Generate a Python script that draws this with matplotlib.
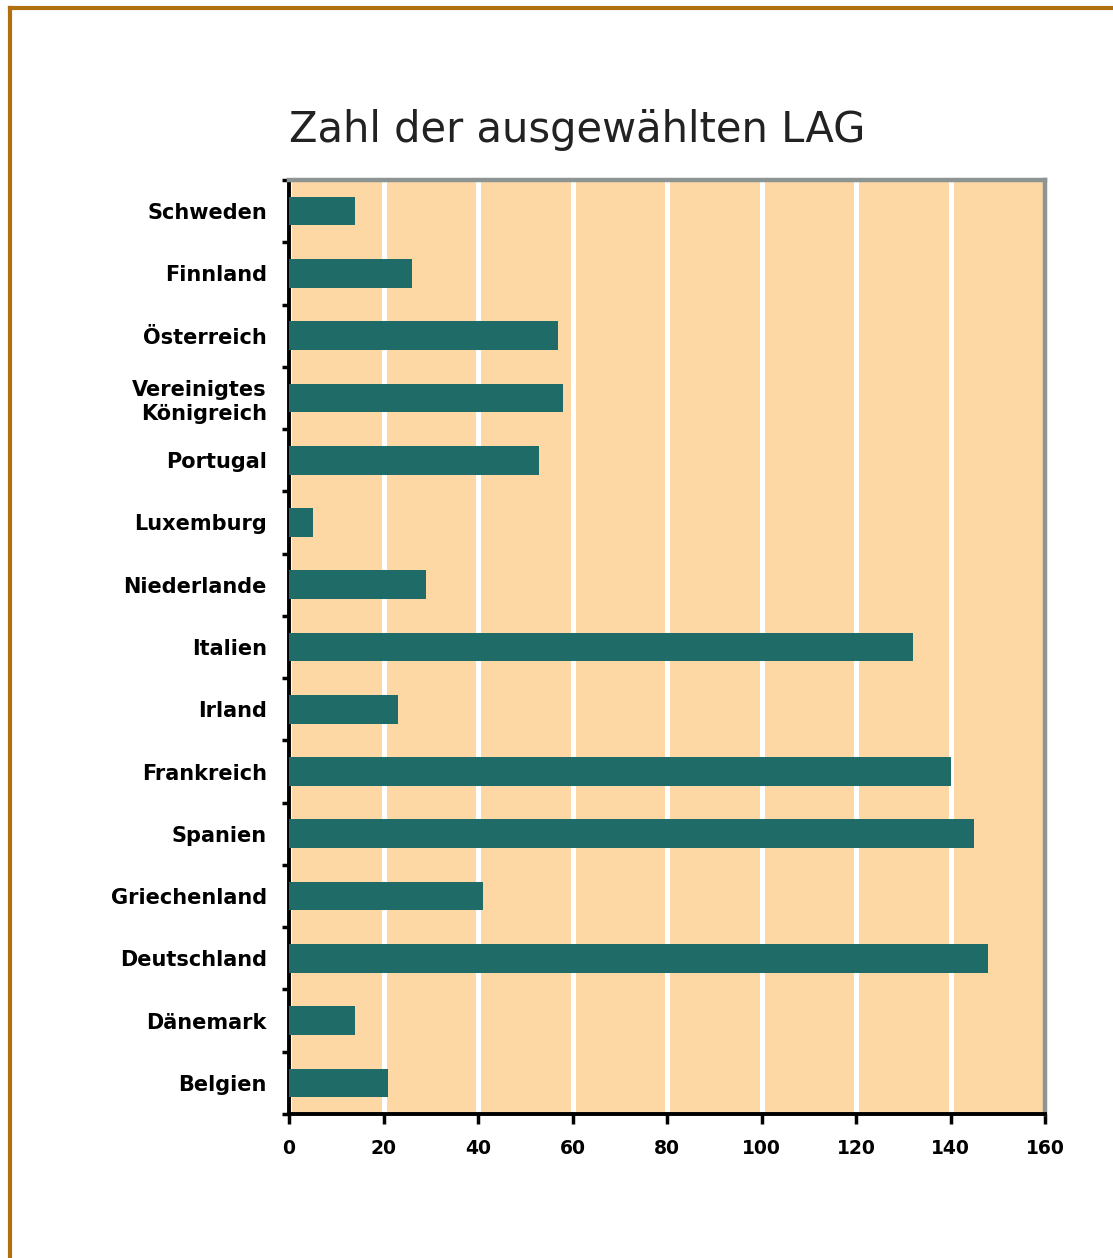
import matplotlib.pyplot as plt
from matplotlib.lines import Line2D
from matplotlib.ticker import FixedLocator, NullFormatter

# Data (top to bottom as in the chart)
countries = ["Schweden", "Finnland", "Österreich", "Vereinigtes\nKönigreich", "Portugal",
             "Luxemburg", "Niederlande", "Italien", "Irland", "Frankreich",
             "Spanien", "Griechenland", "Deutschland", "Dänemark", "Belgien"]
lag_count = [14, 26, 57, 58, 53, 5, 29, 132, 23, 140, 145, 41, 148, 14, 21]
x_ticks = [0, 20, 40, 60, 80, 100, 120, 140, 160]

title = "Zahl der ausgewählten LAG"

bar_color = "#1E6B68"
bg_color = "#FED8A4"
frame_color = "#B07010"
grey = "#8C9494"

fig = plt.figure(figsize=(11.13, 12.58), dpi=100)
ax = fig.add_axes([0.2597, 0.1145, 0.6792, 0.7424])
ax.set_facecolor(bg_color)

pos = list(range(len(countries)))
ax.barh(pos, lag_count, height=0.46, color=bar_color, zorder=3)
ax.set_ylim(len(countries) - 0.5, -0.5)
ax.set_xlim(0, 160)

# white vertical grid
ax.set_xticks(x_ticks)
ax.grid(axis='x', color='white', linewidth=3.6, zorder=1)
ax.set_axisbelow(True)

# y: labels at centers, ticks at boundaries
ax.set_yticks(pos)
ax.set_yticklabels(countries, fontsize=15, fontweight='bold', linespacing=1.25)
ax.tick_params(axis='y', which='major', length=0, pad=16)
ax.yaxis.set_minor_locator(FixedLocator([p - 0.5 for p in pos] + [len(pos) - 0.5]))
ax.yaxis.set_minor_formatter(NullFormatter())
ax.tick_params(axis='y', which='minor', length=5, width=2.5, color='black')

ax.set_xticklabels([str(t) for t in x_ticks], fontsize=13.5, fontweight='bold')
ax.tick_params(axis='x', length=7, width=2.5, color='black', pad=11)

for side in ['left', 'bottom']:
    ax.spines[side].set_color('black')
    ax.spines[side].set_linewidth(2.8)
for side in ['top', 'right']:
    ax.spines[side].set_color(grey)
    ax.spines[side].set_linewidth(3.2)

fig.text(0.2597, 1 - 130 / 1258, title, fontsize=30, va='center', ha='left',
         color='#222222')

# brown frame on top and left
fig.add_artist(Line2D([0.009, 1.0], [1 - 8 / 1258, 1 - 8 / 1258], color=frame_color,
                      linewidth=3, transform=fig.transFigure))
fig.add_artist(Line2D([0.009, 0.009], [0.0, 1 - 8 / 1258], color=frame_color,
                      linewidth=3, transform=fig.transFigure))

fig.savefig("out.png", dpi=100)
